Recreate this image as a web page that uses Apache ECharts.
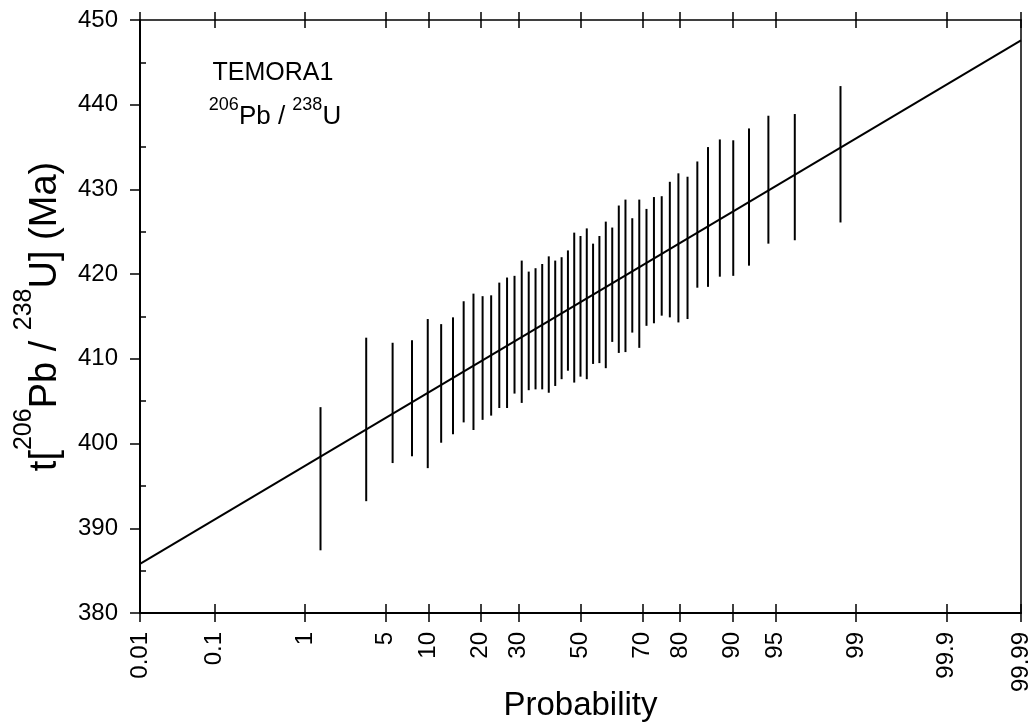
<!DOCTYPE html>
<html><head><meta charset="utf-8">
<script src="https://cdn.jsdelivr.net/npm/echarts@6/dist/echarts.min.js"></script>
<style>html,body{margin:0;padding:0;background:#fff}#c{width:1034px;height:728px}</style>
</head><body><div id="c"></div><script>
// ---- data ----
const probTicks = [0.01, 0.1, 1, 5, 10, 20, 30, 50, 70, 80, 90, 95, 99, 99.9, 99.99];
const probTickLabels = ['0.01','0.1','1','5','10','20','30','50','70','80','90','95','99','99.9','99.99'];
const yMin = 380, yMax = 450, yStep = 10;
// plotting positions (%) of the 47 analyses
const barProb = [1.408, 3.521, 5.634, 7.746, 9.859, 11.972, 14.085, 16.197, 18.310, 20.423,
  22.535, 24.648, 26.761, 28.873, 30.986, 33.099, 35.211, 37.324, 39.437, 41.549,
  43.662, 45.775, 47.887, 50.000, 52.113, 54.225, 56.338, 58.451, 60.563, 62.676,
  64.789, 66.901, 69.014, 71.127, 73.239, 75.352, 77.465, 79.577, 81.690, 83.803,
  85.915, 88.028, 90.141, 92.254, 94.366, 96.479, 98.592];
const barHigh = [404.3, 412.5, 411.9, 412.2, 414.7, 414.1, 414.9, 416.8, 417.7, 417.4,
  417.5, 419.0, 419.6, 419.8, 421.6, 420.3, 420.7, 421.2, 422.1, 421.6,
  422.0, 422.8, 424.9, 424.5, 425.4, 423.6, 424.5, 426.2, 425.5, 428.1,
  428.8, 426.6, 428.8, 427.7, 429.1, 429.2, 430.9, 431.9, 431.5, 433.3,
  435.0, 435.9, 435.8, 437.2, 438.7, 438.9, 442.2];
const barLow = [387.4, 393.2, 397.7, 398.5, 397.1, 400.1, 401.1, 402.5, 401.6, 402.8,
  403.3, 404.2, 404.2, 405.9, 404.8, 406.3, 406.4, 406.4, 406.0, 406.8,
  407.6, 408.6, 407.2, 407.9, 407.6, 409.4, 409.5, 408.9, 412.0, 410.7,
  410.8, 413.1, 411.3, 413.9, 414.2, 415.1, 414.9, 414.3, 414.7, 418.4,
  418.5, 419.7, 419.8, 421.0, 423.6, 424.0, 426.1];
const fitProb = [0.01, 99.99];
const fitAge = [385.8, 447.6];

// ---- probability (normal quantile) scale transform ----
function probit(p){
  const a=[-3.969683028665376e+01,2.209460984245205e+02,-2.759285104469687e+02,1.383577518672690e+02,-3.066479806614716e+01,2.506628277459239e+00];
  const b=[-5.447609879822406e+01,1.615858368580409e+02,-1.556989798598866e+02,6.680131188771972e+01,-1.328068155288572e+01];
  const c=[-7.784894002430293e-03,-3.223964580411365e-01,-2.400758277161838e+00,-2.549732539343734e+00,4.374664141464968e+00,2.938163982698783e+00];
  const d=[7.784695709041462e-03,3.224671290700398e-01,2.445134137142996e+00,3.754408661907416e+00];
  const pl=0.02425, ph=1-pl; let q,r;
  if(p<pl){q=Math.sqrt(-2*Math.log(p));return (((((c[0]*q+c[1])*q+c[2])*q+c[3])*q+c[4])*q+c[5])/((((d[0]*q+d[1])*q+d[2])*q+d[3])*q+1);}
  if(p>ph){q=Math.sqrt(-2*Math.log(1-p));return -(((((c[0]*q+c[1])*q+c[2])*q+c[3])*q+c[4])*q+c[5])/((((d[0]*q+d[1])*q+d[2])*q+d[3])*q+1);}
  q=p-0.5;r=q*q;return (((((a[0]*r+a[1])*r+a[2])*r+a[3])*r+a[4])*r+a[5])*q/(((((b[0]*r+b[1])*r+b[2])*r+b[3])*r+b[4])*r+1);
}
const pz = pct => probit(pct/100);
const tickZ = probTicks.map(pz);
const xMin = tickZ[0], xMax = tickZ[tickZ.length-1];
const labelFor = v => { for (let i=0;i<tickZ.length;i++) if (Math.abs(tickZ[i]-v)<1e-6) return probTickLabels[i]; return ''; };

const FF = '"Liberation Sans", Arial, Helvetica, sans-serif';
const K = '#000';
const xBase = { type:'value', min:xMin, max:xMax, splitLine:{show:false} };
const hidden = { show:false };

const chart = echarts.init(document.getElementById('c'), null, {renderer:'canvas'});
chart.setOption({
  animation:false,
  backgroundColor:'#fff',
  grid:{left:140, right:13, top:20, bottom:115, containLabel:false, outerBoundsMode:'none'},
  xAxis:[
    Object.assign({}, xBase, {position:'bottom',
      axisLine:{show:true,onZero:false,lineStyle:{color:K,width:2}},
      axisTick:{show:true,customValues:tickZ,length:9,lineStyle:{color:K,width:1.5}},
      axisLabel:{show:true,customValues:tickZ,rotate:90,margin:19,fontSize:24,fontFamily:FF,color:K,formatter:labelFor},
      name:'Probability', nameLocation:'middle', nameGap:76, nameMoveOverlap:false,
      nameTextStyle:{fontSize:33,fontFamily:FF,color:K}}),
    Object.assign({}, xBase, {position:'bottom',
      axisLine:{show:false,onZero:false},
      axisTick:{show:true,inside:true,customValues:tickZ,length:9,lineStyle:{color:K,width:1.5}},
      axisLabel:hidden}),
    Object.assign({}, xBase, {position:'top',
      axisLine:{show:true,onZero:false,lineStyle:{color:K,width:1.5}},
      axisTick:{show:true,customValues:tickZ,length:8,lineStyle:{color:K,width:1.5}},
      axisLabel:hidden}),
    Object.assign({}, xBase, {position:'top',
      axisLine:{show:false,onZero:false},
      axisTick:{show:true,inside:true,customValues:tickZ,length:8,lineStyle:{color:K,width:1.5}},
      axisLabel:hidden})
  ],
  yAxis:[
    {type:'value', min:yMin, max:yMax, interval:yStep, position:'left',
      axisLine:{show:true,onZero:false,lineStyle:{color:K,width:2}},
      axisTick:{show:true,length:10,lineStyle:{color:K,width:1.5}},
      axisLabel:{show:true,margin:22,fontSize:24,fontFamily:FF,color:K},
      splitLine:{show:false},
      name:'{n|t[}{s|206}{n|Pb / }{s|238}{n|U] (Ma)}', nameLocation:'middle', nameRotate:90, nameGap:60,
      nameTextStyle:{color:K, rich:{
        n:{fontSize:38,fontFamily:FF,color:K,lineHeight:68},
        s:{fontSize:25,fontFamily:FF,color:K,lineHeight:25,verticalAlign:'top'}}}},
    {type:'value', min:yMin, max:yMax, interval:yStep, position:'left',
      axisLine:{show:false,onZero:false},
      axisTick:{show:false,inside:true},
      minorTick:{show:true,splitNumber:2,length:6,lineStyle:{color:K,width:1.5}},
      axisLabel:hidden, splitLine:{show:false}},
    {type:'value', min:yMin, max:yMax, interval:yStep, position:'right',
      axisLine:{show:true,onZero:false,lineStyle:{color:K,width:1.5}},
      axisTick:hidden, axisLabel:hidden, splitLine:{show:false}}
  ],
  series:[
    {type:'custom', xAxisIndex:0, yAxisIndex:0, encode:{x:0,y:[1,2]},
      data: barProb.map((p,i)=>[pz(p), barLow[i], barHigh[i]]),
      renderItem:function(params, api){
        const x = api.value(0);
        const a = api.coord([x, api.value(1)]);
        const b = api.coord([x, api.value(2)]);
        return {type:'line', shape:{x1:a[0],y1:a[1],x2:b[0],y2:b[1]}, style:{stroke:K,lineWidth:2}};
      }},
    {type:'line', xAxisIndex:0, yAxisIndex:0, symbol:'none', silent:true,
      data: fitProb.map((p,i)=>[pz(p), fitAge[i]]),
      lineStyle:{color:K,width:2}}
  ],
  graphic:[
    {type:'text', x:273, y:73, style:{text:'TEMORA1', fontSize:25, fontFamily:FF, fill:K, align:'center', verticalAlign:'middle'}},
    {type:'text', x:275, y:117, style:{text:'{s|206}{n|Pb / }{s|238}{n|U}', fill:K, align:'center', verticalAlign:'middle',
      rich:{n:{fontSize:26,fontFamily:FF,fill:K,lineHeight:42}, s:{fontSize:18,fontFamily:FF,fill:K,lineHeight:20,verticalAlign:'top'}}}}
  ]
});
</script></body></html>
